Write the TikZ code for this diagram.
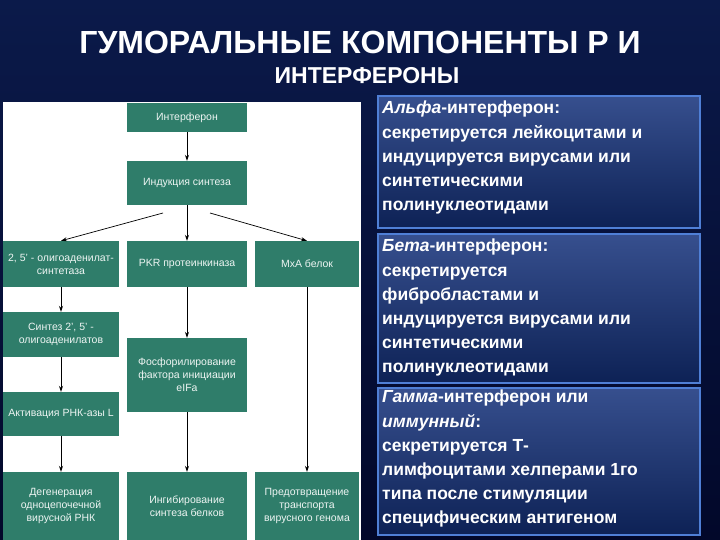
\documentclass[tikz,border=0pt]{standalone}
\usepackage{fontspec}
\setmainfont{Liberation Sans}
\usetikzlibrary{arrows.meta}
\definecolor{bgA}{HTML}{0B1A4A}
\definecolor{bgB}{HTML}{02082A}
\definecolor{teal}{HTML}{2F7D6A}
\definecolor{bx}{HTML}{13307A}
\definecolor{bxb}{HTML}{4F7FD6}
\tikzset{
 fb/.style={fill=teal,draw=none,text=white!92!teal,align=center,font=\fontsize{10.5}{13}\selectfont,inner sep=1pt},
 ar/.style={-{Stealth[length=6pt,width=4pt]},black,line width=0.7pt},
 rb/.style={draw=bxb,line width=2pt,top color=bx!85!white,bottom color=bx!70!black},
 rt/.style={text=white,align=left,anchor=north west,font=\bfseries\fontsize{17.5}{24.2}\selectfont,inner sep=0pt}
}
\begin{document}
\begin{tikzpicture}[x=1pt,y=-1pt]
\useasboundingbox (0,0) rectangle (720,540);
\shade[top color=bgA,bottom color=bgB] (0,0) rectangle (720,540);
\node[text=white,font=\bfseries\fontsize{32}{34}\selectfont] (t1) at (360,42) {ГУМОРАЛЬНЫЕ КОМПОНЕНТЫ Р И};
\node[text=white,font=\bfseries\fontsize{23}{26}\selectfont] (t2) at (367,76) {ИНТЕРФЕРОНЫ};
\fill[white] (3,102) rectangle (361,540);
\node[fb,minimum width=120pt,minimum height=29pt] (a) at (187,117.5) {Интерферон};
\node[fb,minimum width=120pt,minimum height=44pt] (b) at (187,183) {Индукция синтеза};
\node[fb,minimum width=116pt,minimum height=46pt] (c1) at (61,264) {2, 5' - олигоаденилат-\\синтетаза};
\node[fb,minimum width=120pt,minimum height=46pt] (c2) at (187,264) {PKR протеинкиназа};
\node[fb,minimum width=104pt,minimum height=46pt] (c3) at (307,264) {MxA белок};
\node[fb,minimum width=116pt,minimum height=45pt] (d1) at (61,334.5) {Синтез 2', 5' -\\олигоаденилатов};
\node[fb,minimum width=120pt,minimum height=74pt] (d2) at (187,375) {Фосфорилирование\\фактора инициации\\eIFa};
\node[fb,minimum width=116pt,minimum height=44pt] (e1) at (61,414) {Активация РНК-азы L};
\node[fb,minimum width=116pt,minimum height=68pt] (f1) at (61,506) {Дегенерация\\одноцепочечной\\вирусной РНК};
\node[fb,minimum width=120pt,minimum height=68pt] (f2) at (187,506) {Ингибирование\\синтеза белков};
\node[fb,minimum width=104pt,minimum height=68pt] (f3) at (307,506) {Предотвращение\\транспорта\\вирусного генома};
\coordinate (bl) at (163,213);
\coordinate (br) at (210,213);
\draw[ar] (a) -- (b);
\draw[ar] (b) -- (c2);
\draw[ar] (bl) -- (c1.north);
\draw[ar] (br) -- (c3.north);
\draw[ar] (c1) -- (d1);
\draw[ar] (d1) -- (e1);
\draw[ar] (e1) -- (f1);
\draw[ar] (c2) -- (d2);
\draw[ar] (d2) -- (f2);
\draw[ar] (c3) -- (f3);
\shade[rb] (378,96) rectangle (700,228);
\shade[rb] (378,234) rectangle (700,383);
\shade[rb] (378,388) rectangle (700,535);
\draw[bxb,line width=2pt] (378,96) rectangle (700,228) (378,234) rectangle (700,383) (378,388) rectangle (700,535);
\node[rt] (r1) at (382,101) {\textit{Альфа}-интерферон:\\секретируется лейкоцитами и\\индуцируется вирусами или\\синтетическими\\полинуклеотидами};
\node[rt] (r2) at (382,239) {\textit{Бета}-интерферон:\\секретируется\\фибробластами и\\индуцируется вирусами или\\синтетическими\\полинуклеотидами};
\node[rt] (r3) at (382,390) {\textit{Гамма}-интерферон или\\\textit{иммунный}:\\секретируется Т-\\лимфоцитами хелперами 1го\\типа после стимуляции\\специфическим антигеном};
\end{tikzpicture}
\end{document}
